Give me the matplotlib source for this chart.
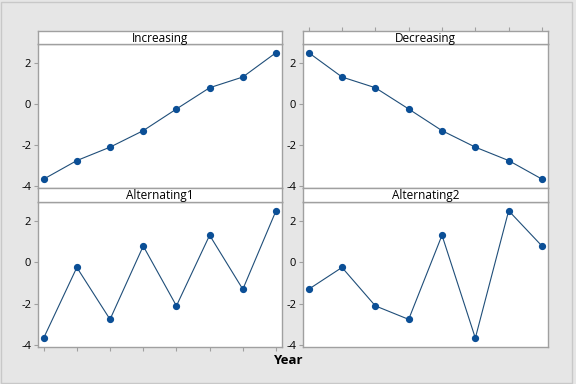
import matplotlib
matplotlib.use("Agg")
import matplotlib.pyplot as plt
from matplotlib.patches import Rectangle

plt.rcParams['font.family'] = ['Open Sans', 'DejaVu Sans']

years = [1, 2, 3, 4, 5, 6, 7, 8]
increasing = [-3.65, -2.75, -2.1, -1.3, -0.25, 0.78, 1.3, 2.48]
decreasing = [2.48, 1.3, 0.78, -0.25, -1.3, -2.1, -2.75, -3.65]
alternating1 = [-3.65, -0.25, -2.75, 0.78, -2.1, 1.3, -1.3, 2.48]
alternating2 = [-1.3, -0.25, -2.1, -2.75, 1.3, -3.65, 2.48, 0.78]
panel_names = ["Increasing", "Decreasing", "Alternating1", "Alternating2"]
y_ticks = [-4, -2, 0, 2]

W, H = 576, 384
bg = "#e6e6e6"
edge = "#a0a0a0"
line_col = "#1f4e79"
dot_col = "#0b4f96"

fig = plt.figure(figsize=(W / 100, H / 100), dpi=100, facecolor=bg)
fig.patches.append(Rectangle((1 / W, 1 / H), (571 / W), (381 / H), transform=fig.transFigure,
                             fill=False, edgecolor="#c8c8c8", linewidth=1))


def px(x0, y0, x1, y1):
    # pixel box (top-left origin) -> figure fraction rect
    return [x0 / W, 1 - y1 / H, (x1 - x0) / W, (y1 - y0) / H]


cols = [(38, 282), (303, 548)]
rows = [(31, 44, 188), (188, 202, 347)]
series = [increasing, decreasing, alternating1, alternating2]

for i, vals in enumerate(series):
    r, c = divmod(i, 2)
    x0, x1 = cols[c]
    s0, p0, p1 = rows[r]

    ax = fig.add_axes(px(x0, p0, x1, p1), facecolor="white")
    ax.plot(years, vals, color=line_col, linewidth=0.8, marker="o",
            markersize=4.2, markerfacecolor=dot_col, markeredgecolor=dot_col)
    ax.set_xlim(0.83, 8.18)
    ax.set_ylim(-4.08, 2.9)
    ax.set_yticks(y_ticks)
    ax.set_yticklabels([str(t) for t in y_ticks], fontsize=8)
    ax.tick_params(axis="y", direction="out", length=3, width=0.8, color=edge, pad=2)
    ax.set_xticks(years)
    if r == 1 and c == 0:
        ax.tick_params(axis="x", direction="out", length=3, width=0.8, color=edge,
                       labelbottom=False)
    else:
        ax.tick_params(axis="x", length=0, labelbottom=False)
    for sp in ax.spines.values():
        sp.set_color(edge)
        sp.set_linewidth(1)

    st = fig.add_axes(px(x0, s0, x1, p0), facecolor="white")
    st.set_xlim(0.83, 8.18)
    st.set_yticks([])
    st.set_xticks(years)
    if r == 0 and c == 1:
        st.tick_params(axis="x", top=True, bottom=False, labeltop=False, labelbottom=False,
                       direction="out", length=3, width=0.8, color=edge)
    else:
        st.tick_params(axis="x", length=0, labelbottom=False)
    for sp in st.spines.values():
        sp.set_color(edge)
        sp.set_linewidth(1)
    st.text(0.5, 0.45, panel_names[i], transform=st.transAxes, ha="center", va="center",
            fontsize=8.5, color="black")

fig.text(288 / W, 1 - 360 / H, "Year", ha="center", va="center", fontsize=9.5,
         fontweight="bold")

fig.savefig("out.png", dpi=100, facecolor=bg)
